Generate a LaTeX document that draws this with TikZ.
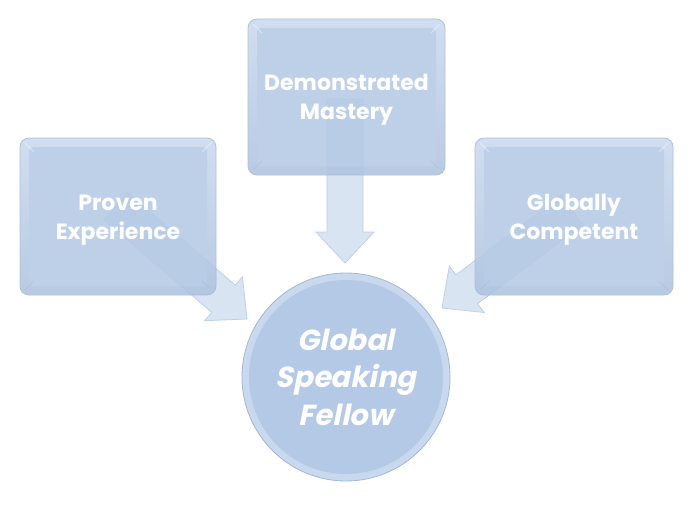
\documentclass[tikz,border=0pt]{standalone}
\usepackage{fontspec}
\setmainfont{Poppins}
\newfontfamily\circfont[FakeSlant=0.2]{Poppins}
\usetikzlibrary{calc}
\definecolor{boxfill}{HTML}{B4C9E5}
\definecolor{boxtop}{HTML}{C9D9EE}
\definecolor{boxbot}{HTML}{ADC2DF}
\definecolor{boxedge}{HTML}{A3B7D3}
\definecolor{arrfill}{HTML}{D9E4F3}
\definecolor{arredge}{HTML}{BFD0E7}
\tikzset{
  card/.style={rounded corners=9pt, top color=boxtop, bottom color=boxbot, draw=boxedge, line width=0.8pt},
  cardinner/.style={rounded corners=4pt, fill=boxfill},
  lab/.style={text=white, align=center, font=\bfseries\fontsize{22}{29}\selectfont},
  circlab/.style={text=white, align=center, font=\circfont\bfseries\fontsize{29}{37.5}\selectfont},
}
\newcommand{\blockarrow}[2]{%
  \coordinate (hb) at ($(#2)!31pt!(#1)$);
  \fill[arrfill, draw=arredge, line width=0.8pt, line join=miter]
    ($(#1)!18pt!90:(#2)$) -- ($(hb)!18pt!90:(#2)$) -- ($(hb)!29pt!90:(#2)$) -- (#2)
    -- ($(hb)!29pt!-90:(#2)$) -- ($(hb)!18pt!-90:(#2)$) -- ($(#1)!18pt!-90:(#2)$) -- cycle;
}
\begin{document}
\begin{tikzpicture}[x=1pt,y=-1pt]
\useasboundingbox[fill=white] (0,0) rectangle (692,508);
% arrow anchors
\coordinate (sT) at (345,99);
\coordinate (eT) at (345,263);
\coordinate (sL) at (116,206);
\coordinate (eL) at (247,319);
\coordinate (sR) at (572,210);
\coordinate (eR) at (442,308);
\blockarrow{sT}{eT}
\blockarrow{sL}{eL}
\blockarrow{sR}{eR}
% boxes
\foreach \xa/\ya/\xb/\yb in {20/138/216/295, 248/19/445/175, 475/138/673/295}{
  \begin{scope}[transparency group, opacity=0.86]
  \path[card] (\xa,\ya) rectangle (\xb,\yb);
  \path[cardinner] (\xa+9,\ya+9) rectangle (\xb-9,\yb-9);
  \draw[white, opacity=0.35, line width=1.2pt] (\xa+5,\ya+5) -- (\xa+14,\ya+14);
  \draw[white, opacity=0.35, line width=1.2pt] (\xb-5,\ya+5) -- (\xb-14,\ya+14);
  \draw[boxedge, opacity=0.5, line width=1.2pt] (\xa+5,\yb-5) -- (\xa+14,\yb-14);
  \draw[boxedge, opacity=0.5, line width=1.2pt] (\xb-5,\yb-5) -- (\xb-14,\yb-14);
  \end{scope}
}
% circle
\shade[inner color=boxfill, outer color=boxtop, draw=boxedge, line width=0.8pt] (346,377) circle (104);
\fill[boxfill] (346,377) circle (97);
% labels
\node[lab] (L) at (118,220) {Proven\\Experience};
\node[lab] (T) at (346.5,100) {Demonstrated\\Mastery};
\node[lab] (R) at (574,220) {Globally\\Competent};
\node[circlab] (C) at (346,377) {Global\\Speaking\\Fellow};
\end{tikzpicture}
\end{document}
